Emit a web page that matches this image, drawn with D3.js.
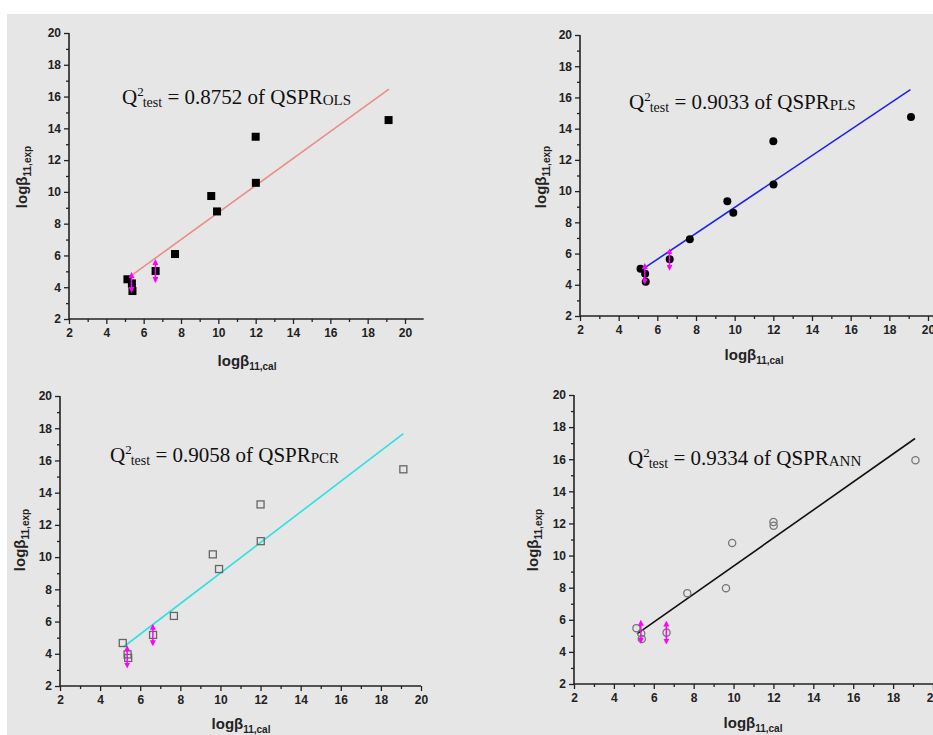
<!DOCTYPE html>
<html>
<head>
<meta charset="utf-8">
<script src="https://cdn.jsdelivr.net/npm/d3@7"></script>
<style>
  html, body { margin: 0; padding: 0; background: #fff; }
  svg { display: block; }
</style>
</head>
<body>
<div id="chart"></div>
<script>
// values
const xCal = [5.13, 5.37, 5.40, 6.64, 7.68, 9.62, 9.93, 12.0, 12.01, 19.12];

const yOLS = [4.5, 4.24, 3.76, 5.02, 6.09, 9.74, 8.77, 13.47, 10.57, 14.52];
const yPLS = [5.03, 4.71, 4.2, 5.63, 6.91, 9.35, 8.62, 13.2, 10.42, 14.75];
const yPCR = [4.67, 3.96, 3.74, 5.17, 6.35, 10.17, 9.26, 13.27, 10.99, 15.45];
const yANN = [5.48, 5.15, 4.8, 5.2, 7.66, 7.97, 10.78, 12.09, 11.86, 15.94];

// fit lines: [start, end]
const fitX = {
  OLS: [5.32, 19.14],
  PLS: [5.24, 19.09],
  PCR: [5.16, 19.12],
  ANN: [5.16, 19.1]
};
const fitY = {
  OLS: [4.72, 16.47],
  PLS: [5.0, 16.5],
  PCR: [4.42, 17.66],
  ANN: [5.12, 17.29]
};

// magenta double arrows: x, top, bottom
const arrowX = [5.35, 6.63];
const arrowTop = { OLS: [4.96, 5.77], PLS: [5.4, 6.33], PCR: [4.53, 5.86], ANN: [6.0, 5.95] };
const arrowBot = { OLS: [3.64, 4.26], PLS: [4.0, 4.9], PCR: [3.08, 4.46], ANN: [4.5, 4.46] };

const q2 = { OLS: "0.8752", PLS: "0.9033", PCR: "0.9058", ANN: "0.9334" };

const majorTicks = d3.range(2, 21, 2);
const minorTicks = d3.range(3, 20, 2);

const W = 933, H = 735;
const svg = d3.select("#chart").append("svg")
  .attr("width", W).attr("height", H)
  .attr("viewBox", [0, 0, W, H]);

svg.append("rect").attr("x", 7).attr("y", 14)
  .attr("width", W - 7).attr("height", H - 14).attr("fill", "#e6e6e6");

const defs = svg.append("defs");
defs.append("marker").attr("id", "ahead")
  .attr("viewBox", "0 0 10 10").attr("refX", 5).attr("refY", 5)
  .attr("markerWidth", 4).attr("markerHeight", 4)
  .attr("orient", "auto-start-reverse")
  .append("path").attr("d", "M0,0L10,5L0,10z").attr("fill", "#ff00ff");

// panel placements (pixels)
const panels = [
  { key: "OLS", ys: yOLS, x0: 69, x20: 405, xEnd: 21, yTop: 33, yBot: 319, color: "#ec8d8a", mark: "sqFill",
    title: [122, 104], xLab: [247, 366], yLab: [27, 177] },
  { key: "PLS", ys: yPLS, x0: 580, x20: 928, xEnd: 21, yTop: 35, yBot: 316, color: "#1f1fee", mark: "dotFill",
    title: [629, 109], xLab: [754, 360], yLab: [546, 177] },
  { key: "PCR", ys: yPCR, x0: 60, x20: 421, xEnd: 20, yTop: 396, yBot: 686, color: "#2ee0e0", mark: "sqOpen",
    title: [110, 462], xLab: [241, 729], yLab: [25, 540] },
  { key: "ANN", ys: yANN, x0: 574, x20: 933, xEnd: 20, yTop: 395, yBot: 684, color: "#111", mark: "dotOpen",
    title: [628, 465], xLab: [753, 728], yLab: [538, 540] }
];

function axisLabel(g, x, y, sub, rotate) {
  const t = g.append("text")
    .attr("transform", `translate(${x},${y})` + (rotate ? " rotate(-90)" : ""))
    .attr("text-anchor", "middle")
    .attr("font-family", "Liberation Sans, Arial, sans-serif")
    .attr("font-weight", "bold").attr("fill", "#222");
  t.append("tspan").attr("font-size", 15).text("logβ");
  t.append("tspan").attr("font-size", 10).attr("dy", 4).text(sub);
}

panels.forEach(p => {
  const g = svg.append("g");
  const x = d3.scaleLinear().domain([2, 20]).range([p.x0, p.x20]);
  const y = d3.scaleLinear().domain([2, 20]).range([p.yBot, p.yTop]);

  // x axis
  const gx = g.append("g").attr("transform", `translate(0,${p.yBot})`);
  gx.append("line").attr("x1", x(2)).attr("x2", x(p.xEnd))
    .attr("stroke", "#222").attr("stroke-width", 1.6);
  gx.call(d3.axisBottom(x).tickValues(minorTicks).tickSize(3).tickFormat(""))
    .call(a => a.select(".domain").remove());
  const gx2 = g.append("g").attr("transform", `translate(0,${p.yBot})`)
    .call(d3.axisBottom(x).tickValues(majorTicks).tickSize(5).tickPadding(4))
    .call(a => a.select(".domain").remove());
  gx2.selectAll("text").attr("font-size", 12).attr("font-weight", "bold")
    .attr("font-family", "Liberation Sans, Arial, sans-serif").attr("fill", "#222");
  g.selectAll(".tick line").attr("stroke", "#222").attr("stroke-width", 1.3);

  // y axis
  const gy = g.append("g").attr("transform", `translate(${p.x0},0)`);
  gy.append("line").attr("y1", y(2)).attr("y2", y(20))
    .attr("stroke", "#222").attr("stroke-width", 1.6);
  gy.call(d3.axisLeft(y).tickValues(minorTicks).tickSize(3).tickFormat(""))
    .call(a => a.select(".domain").remove());
  const gy2 = g.append("g").attr("transform", `translate(${p.x0},0)`)
    .call(d3.axisLeft(y).tickValues(majorTicks).tickSize(5).tickPadding(3))
    .call(a => a.select(".domain").remove());
  gy2.selectAll("text").attr("font-size", 12).attr("font-weight", "bold")
    .attr("font-family", "Liberation Sans, Arial, sans-serif").attr("fill", "#222");
  g.selectAll(".tick line").attr("stroke", "#222").attr("stroke-width", 1.3);

  axisLabel(g, p.xLab[0], p.xLab[1], "11,cal", false);
  axisLabel(g, p.yLab[0], p.yLab[1], "11,exp", true);

  // fit line
  const fit = fitX[p.key].map((v, i) => [v, fitY[p.key][i]]);
  g.append("path").datum(fit)
    .attr("fill", "none").attr("stroke", p.color).attr("stroke-width", 1.6)
    .attr("d", d3.line().x(d => x(d[0])).y(d => y(d[1])));

  // points
  const pts = xCal.map((v, i) => [v, p.ys[i]]);
  if (p.mark === "sqFill" || p.mark === "sqOpen") {
    const s = p.mark === "sqFill" ? 8 : 7;
    g.selectAll(".pt").data(pts).join("rect")
      .attr("x", d => x(d[0]) - s / 2).attr("y", d => y(d[1]) - s / 2)
      .attr("width", s).attr("height", s)
      .attr("fill", p.mark === "sqFill" ? "#000" : "none")
      .attr("stroke", p.mark === "sqFill" ? "none" : "#666")
      .attr("stroke-width", 1.3);
  } else {
    g.selectAll(".pt").data(pts).join("circle")
      .attr("cx", d => x(d[0])).attr("cy", d => y(d[1]))
      .attr("r", p.mark === "dotFill" ? 4 : 3.6)
      .attr("fill", p.mark === "dotFill" ? "#000" : "none")
      .attr("stroke", p.mark === "dotFill" ? "none" : "#777")
      .attr("stroke-width", 1.3);
  }

  // magenta arrows
  arrowX.forEach((ax, i) => {
    g.append("line")
      .attr("x1", x(ax)).attr("x2", x(ax))
      .attr("y1", y(arrowTop[p.key][i]) + 3).attr("y2", y(arrowBot[p.key][i]) - 3)
      .attr("stroke", "#ff00ff").attr("stroke-width", 1.5)
      .attr("marker-start", "url(#ahead)").attr("marker-end", "url(#ahead)");
  });

  // title
  const t = g.append("text")
    .attr("x", p.title[0]).attr("y", p.title[1])
    .attr("font-family", "Liberation Serif, Times New Roman, serif")
    .attr("fill", "#111").attr("font-size", 21);
  t.append("tspan").text("Q");
  t.append("tspan").attr("font-size", 13).attr("dy", -8).text("2");
  t.append("tspan").attr("font-size", 14).attr("dy", 11).attr("dx", -1).text("test");
  t.append("tspan").attr("dy", -3).text(" = " + q2[p.key] + " of QSPR");
  t.append("tspan").attr("font-size", 15).attr("dy", 1).text(p.key);
});
</script>
</body>
</html>
